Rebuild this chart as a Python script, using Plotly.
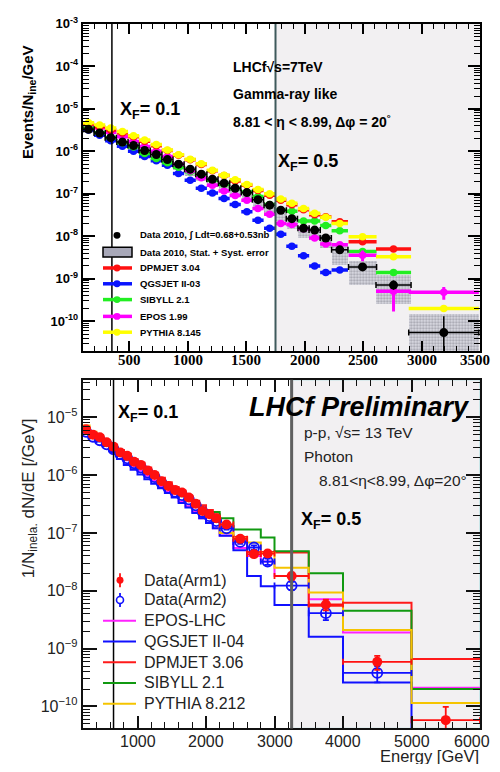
import plotly.graph_objects as go

# ---------------- TOP PANEL: LHCf 7 TeV ----------------
top_x = [150, 245, 340, 440, 535, 630, 730, 825, 920, 1020, 1115, 1210, 1310, 1405,
         1505, 1600, 1700, 1795, 1890, 1990, 2085, 2180, 2300, 2495, 2760, 3190]
top_xerr = [48, 48, 48, 48, 48, 48, 48, 48, 48, 48, 48, 48, 48, 48,
            48, 48, 48, 48, 48, 48, 48, 48, 70, 120, 150, 300]
top_data = [3.3e-6, 2.7e-6, 2.1e-6, 1.65e-6, 1.37e-6, 1.05e-6, 8.4e-7, 6.4e-7, 5.0e-7, 3.8e-7,
            2.9e-7, 2.2e-7, 1.78e-7, 1.35e-7, 1.07e-7, 7.3e-8, 5.4e-8, 4.1e-8, 2.6e-8, 1.55e-8,
            1.4e-8, 9.1e-9, 4.8e-9, 1.9e-9, 7.1e-10, 5.4e-11]
top_data_eup = [0, 0, 0, 0, 0, 0, 0, 0, 0, 0, 0, 0, 0, 0, 0, 0, 0, 0, 0, 0, 0, 0,
                4e-10, 2.5e-10, 2.0e-10, 7.8e-11]
top_data_edn = [0, 0, 0, 0, 0, 0, 0, 0, 0, 0, 0, 0, 0, 0, 0, 0, 0, 0, 0, 0, 0, 0,
                4e-10, 2.5e-10, 1.6e-10, 5.3e-11]
top_sys_hi = [3.6e-6, 2.95e-6, 2.3e-6, 1.8e-6, 1.5e-6, 1.15e-6, 9.2e-7, 7.0e-7, 5.5e-7, 4.2e-7,
              3.2e-7, 2.45e-7, 2.0e-7, 1.5e-7, 1.2e-7, 8.2e-8, 6.1e-8, 4.6e-8, 2.9e-8, 1.75e-8,
              1.6e-8, 1.05e-8, 6.0e-9, 2.7e-9, 1.2e-9, 1.45e-10]
top_sys_lo = [2.7e-6, 2.2e-6, 1.7e-6, 1.3e-6, 1.07e-6, 8.0e-7, 6.3e-7, 4.7e-7, 3.6e-7, 2.7e-7,
              2.0e-7, 1.5e-7, 1.2e-7, 8.8e-8, 6.8e-8, 4.5e-8, 3.2e-8, 2.3e-8, 1.5e-8, 9.3e-9,
              8.0e-9, 5.4e-9, 2.1e-9, 7.1e-10, 2.5e-10, 1.5e-11]
top_dpmjet = [4.4e-6, 3.8e-6, 3.2e-6, 2.7e-6, 2.2e-6, 1.74e-6, 1.35e-6, 1.05e-6, 8.1e-7, 6.3e-7,
              4.9e-7, 3.5e-7, 2.7e-7, 2.0e-7, 1.6e-7, 1.2e-7, 9.3e-8, 7.1e-8, 5.5e-8, 4.2e-8,
              3.2e-8, 2.9e-8, 2.2e-8, 7.4e-9, 5.0e-9, None]
top_qgsjet = [3.2e-6, 2.4e-6, 1.78e-6, 1.32e-6, 1.0e-6, 7.6e-7, 6.0e-7, 4.7e-7, 3.0e-7, 2.1e-7,
              1.35e-7, 1.05e-7, 7.8e-8, 5.6e-8, 3.8e-8, 2.4e-8, 1.55e-8, 1.12e-8, 5.8e-9, 3.5e-9,
              2.0e-9, 1.4e-9, 1.6e-9, None, None, None]
top_sibyll = [3.55e-6, 2.75e-6, 2.1e-6, 1.6e-6, 1.26e-6, 8.9e-7, 6.8e-7, 5.4e-7, 4.2e-7, 3.3e-7,
              2.6e-7, 2.1e-7, 1.66e-7, 1.32e-7, 1.1e-7, 8.7e-8, 5.6e-8, 4.1e-8, 3.9e-8, 2.3e-8,
              2.3e-8, 1.8e-8, 1.35e-8, 4.4e-9, 1.4e-9, None]
top_epos = [4.3e-6, 3.55e-6, 2.8e-6, 2.2e-6, 1.7e-6, 1.3e-6, 1.0e-6, 7.6e-7, 5.0e-7, 3.5e-7,
            2.4e-7, 1.6e-7, 1.17e-7, 9.1e-8, 7.1e-8, 4.5e-8, 3.3e-8, 2.0e-8, 1.9e-8, 1.5e-8,
            9.1e-9, 6.6e-9, 6.3e-9, 3.6e-9, 5.1e-10, 4.8e-10]
top_epos_err = [0, 0, 0, 0, 0, 0, 0, 0, 0, 0, 0, 0, 0, 0, 0, 0, 0, 0, 0, 0, 0, 0,
                0, 1.0e-9, 3.4e-10, 1.6e-10]
top_pythia = [4.7e-6, 4.17e-6, 3.55e-6, 2.95e-6, 2.34e-6, 1.86e-6, 1.45e-6, 1.07e-6, 8.3e-7, 6.5e-7,
              5.1e-7, 3.6e-7, 2.75e-7, 2.14e-7, 1.66e-7, 1.26e-7, 1.0e-7, 7.6e-8, 6.0e-8, 4.5e-8,
              3.5e-8, 2.8e-8, 2.0e-8, 9.8e-9, 3.3e-9, 2.0e-10]
top_tickvals_x = [500, 1000, 1500, 2000, 2500, 3000, 3500]
top_ticklabels_x = ["500", "1000", "1500", "2000", "2500", "3000", "3500"]
top_ticktext_y = ["10<sup>-10</sup>", "10<sup>-9</sup>", "10<sup>-8</sup>", "10<sup>-7</sup>",
                  "10<sup>-6</sup>", "10<sup>-5</sup>", "10<sup>-4</sup>", "10<sup>-3</sup>"]
top_tickvals_y = [1e-10, 1e-9, 1e-8, 1e-7, 1e-6, 1e-5, 1e-4, 1e-3]

# ---------------- BOTTOM PANEL: LHCf 13 TeV ----------------
bot_edges = [200, 300, 400, 500, 600, 700, 800, 900, 1000, 1100, 1200, 1300, 1400, 1500,
             1600, 1700, 1800, 1900, 2000, 2100, 2200, 2400, 2600, 2800, 3000, 3500, 4000,
             5000, 6000]
bot_x = [250, 350, 450, 550, 650, 750, 850, 950, 1050, 1150, 1250, 1350, 1450, 1550,
         1650, 1750, 1850, 1950, 2050, 2150, 2300, 2500, 2700, 2900, 3250, 3750, 4500, 5500]
bot_xerr = [50, 50, 50, 50, 50, 50, 50, 50, 50, 50, 50, 50, 50, 50,
            50, 50, 50, 50, 50, 50, 100, 100, 100, 100, 250, 250, 500, 500]
arm1 = [6.2e-6, 5.0e-6, 4.5e-6, 3.7e-6, 3.1e-6, 2.45e-6, 2.15e-6, 1.7e-6, 1.5e-6, 1.2e-6,
        1.0e-6, 7.8e-7, 6.5e-7, 5.5e-7, 5.0e-7, 4.1e-7, 3.2e-7, 2.4e-7, 2.1e-7, 1.8e-7,
        1.4e-7, 7.9e-8, 4.3e-8, 4.4e-8, 1.8e-8, 5.8e-9, 5.9e-10, 5.8e-11]
arm1_err = [2e-7, 1.5e-7, 1.2e-7, 1e-7, 8e-8, 6e-8, 5e-8, 4e-8, 3e-8, 2.5e-8,
            2e-8, 1.6e-8, 1.3e-8, 1.1e-8, 1e-8, 9e-9, 8e-9, 7e-9, 6e-9, 6e-9,
            6e-9, 5e-9, 5e-9, 5e-9, 2.5e-9, 1.2e-9, 1.6e-10, 4e-11]
arm2 = [5.6e-6, 4.6e-6, 4.0e-6, 3.4e-6, 2.8e-6, 2.3e-6, 1.95e-6, 1.6e-6, 1.35e-6, 1.1e-6,
        9.2e-7, 7.3e-7, 6.0e-7, 5.1e-7, 4.5e-7, 3.8e-7, 3.0e-7, 2.3e-7, 1.95e-7, 1.6e-7,
        1.2e-7, 7.0e-8, 5.6e-8, 3.2e-8, 1.23e-8, 4.1e-9, 3.8e-10, None]
arm2_err = [2e-7, 1.5e-7, 1.2e-7, 1e-7, 8e-8, 6e-8, 5e-8, 4e-8, 3e-8, 2.5e-8,
            2e-8, 1.6e-8, 1.3e-8, 1.1e-8, 1e-8, 9e-9, 8e-9, 7e-9, 6e-9, 6e-9,
            6e-9, 5e-9, 5e-9, 4e-9, 2e-9, 1e-9, 1.2e-10, None]
epos_lhc = [5.8e-6, 4.7e-6, 4.0e-6, 3.3e-6, 2.7e-6, 2.15e-6, 1.8e-6, 1.45e-6, 1.2e-6, 9.7e-7,
            8.0e-7, 6.4e-7, 5.2e-7, 4.2e-7, 3.5e-7, 2.9e-7, 2.3e-7, 1.8e-7, 1.5e-7, 1.2e-7,
            9.0e-8, 5.5e-8, 4.0e-8, 3.2e-8, 1.8e-8, 7.1e-9, 1.9e-9, 2.1e-10]
qgsjet2 = [5.6e-6, 4.7e-6, 3.8e-6, 3.2e-6, 2.5e-6, 1.9e-6, 1.5e-6, 1.23e-6, 1.02e-6, 8.5e-7,
           7.1e-7, 5.9e-7, 4.9e-7, 4.1e-7, 3.3e-7, 2.75e-7, 2.2e-7, 1.8e-7, 1.48e-7, 1.2e-7,
           8.9e-8, 5.0e-8, 1.8e-8, 1.2e-8, 5.7e-9, 1.6e-9, 2.6e-10, 1e-12]
dpmjet3 = [6.5e-6, 5.4e-6, 4.6e-6, 3.9e-6, 3.3e-6, 2.7e-6, 2.3e-6, 1.9e-6, 1.6e-6, 1.35e-6,
           1.1e-6, 9.0e-7, 7.5e-7, 6.2e-7, 5.2e-7, 4.3e-7, 3.6e-7, 3.0e-7, 2.5e-7, 2.1e-7,
           1.3e-7, 8.5e-8, 4.7e-8, 4.7e-8, 4.6e-8, 5.5e-9, 6.2e-9, 6.6e-10]
sibyll2 = [6.0e-6, 4.7e-6, 3.9e-6, 3.2e-6, 2.7e-6, 2.2e-6, 1.85e-6, 1.55e-6, 1.3e-6, 1.1e-6,
           9.0e-7, 7.5e-7, 6.2e-7, 5.1e-7, 4.3e-7, 3.6e-7, 3.0e-7, 2.5e-7, 2.3e-7, 2.3e-7,
           1.8e-7, 1.15e-7, 1.15e-7, 8.3e-8, 4.8e-8, 2.0e-8, 4.5e-9, 2.0e-10]
pythia8 = [7.2e-6, 5.6e-6, 4.6e-6, 3.8e-6, 3.1e-6, 2.55e-6, 2.1e-6, 1.75e-6, 1.45e-6, 1.2e-6,
           9.8e-7, 8.0e-7, 6.5e-7, 5.3e-7, 4.4e-7, 3.6e-7, 2.9e-7, 2.4e-7, 2.0e-7, 1.65e-7,
           1.0e-7, 8.0e-8, 6.8e-8, 4.5e-8, 2.5e-8, 9.3e-9, 2.1e-9, 1.15e-10]
bot_tickvals_x = [1000, 2000, 3000, 4000, 5000, 6000]
bot_ticklabels_x = ["1000", "2000", "3000", "4000", "5000", "6000"]
bot_tickvals_y = [1e-10, 1e-9, 1e-8, 1e-7, 1e-6, 1e-5]
bot_ticktext_y = ["10<sup>\u221210</sup>", "10<sup>\u22129</sup>", "10<sup>\u22128</sup>",
                  "10<sup>\u22127</sup>", "10<sup>\u22126</sup>", "10<sup>\u22125</sup>"]

XF_TOP = [350, 1750]
XF_BOT = [650, 3250]

# the page body keeps its default 8px margin; the figure is sized so the page is 500x772
OFF = 8
W, H = 500 - 2 * OFF, 772 - 2 * OFF


def px(v):
    return (v - OFF) / W


def py(v):
    return 1 - (v - OFF) / H


fig = go.Figure()

fig.add_trace(go.Bar(
    x=top_x, base=top_sys_lo,
    y=[h - l for h, l in zip(top_sys_hi, top_sys_lo)],
    width=[2 * e for e in top_xerr],
    marker=dict(color="rgba(255,255,255,0)", line=dict(width=0),
                pattern=dict(shape=".", fgcolor="#6a6a78", bgcolor="#dcdce4", size=3, solidity=0.45)),
    xaxis="x", yaxis="y", hoverinfo="skip"))

top_models = [
    (top_qgsjet, "#0a14ff", None),
    (top_sibyll, "#22ee22", None),
    (top_epos, "#ff00ff", top_epos_err),
    (top_dpmjet, "#ff1010", None),
    (top_pythia, "#ffff00", None),
]
for vals, col, yerr in top_models:
    fig.add_trace(go.Scatter(
        x=top_x, y=vals, mode="markers", xaxis="x", yaxis="y",
        marker=dict(symbol="circle", size=7.5, color=col),
        error_x=dict(type="data", array=top_xerr, color=col, thickness=3.5, width=0),
        error_y=(dict(type="data", array=yerr, color=col, thickness=3, width=0) if yerr else None),
        hoverinfo="skip"))

fig.add_trace(go.Scatter(
    x=top_x, y=top_data, mode="markers", xaxis="x", yaxis="y",
    marker=dict(symbol="circle", size=9, color="black"),
    error_x=dict(type="data", array=top_xerr, color="black", thickness=1.5, width=3),
    error_y=dict(type="data", array=top_data_eup, arrayminus=top_data_edn, color="black",
                 thickness=1.5, width=0),
    hoverinfo="skip"))

bot_models = [
    (epos_lhc, "#ff22ff"),
    (qgsjet2, "#1010ff"),
    (dpmjet3, "#ff1a1a"),
    (sibyll2, "#119911"),
    (pythia8, "#f5c400"),
]
for vals, col in bot_models:
    fig.add_trace(go.Scatter(
        x=bot_edges, y=vals + [vals[-1]], mode="lines", line=dict(color=col, width=2, shape="hv"),
        xaxis="x2", yaxis="y2", hoverinfo="skip", connectgaps=False))

fig.add_trace(go.Scatter(
    x=bot_x, y=arm2, mode="markers", xaxis="x2", yaxis="y2",
    marker=dict(symbol="circle-open", size=10, color="#1010ff", line=dict(width=1.8)),
    error_x=dict(type="data", array=bot_xerr, color="#1010ff", thickness=1.8, width=3),
    error_y=dict(type="data", array=arm2_err, color="#1010ff", thickness=1.8, width=3),
    hoverinfo="skip"))
fig.add_trace(go.Scatter(
    x=bot_x, y=arm1, mode="markers", xaxis="x2", yaxis="y2",
    marker=dict(symbol="circle", size=10, color="#ff1010"),
    error_x=dict(type="data", array=bot_xerr, color="#ff1010", thickness=1.8, width=3),
    error_y=dict(type="data", array=arm1_err, color="#ff1010", thickness=1.8, width=3),
    hoverinfo="skip"))

shapes = []
shapes.append(dict(type="rect", xref="x", yref="y domain", x0=XF_TOP[1], x1=3500, y0=0, y1=1,
                   fillcolor="#f2f0f2", line=dict(width=0), layer="below"))
shapes.append(dict(type="rect", xref="x2", yref="y2 domain", x0=XF_BOT[1], x1=6000, y0=0, y1=1,
                   fillcolor="#f2f0f2", line=dict(color="#bfe3e6", width=1.5), layer="below"))
shapes.append(dict(type="line", xref="x", yref="y domain", x0=XF_TOP[0], x1=XF_TOP[0], y0=0, y1=1,
                   line=dict(color="black", width=1.5)))
shapes.append(dict(type="line", xref="x", yref="y domain", x0=XF_TOP[1], x1=XF_TOP[1], y0=0, y1=1,
                   line=dict(color="#3f5a5c", width=2)))
shapes.append(dict(type="line", xref="x2", yref="y2 domain", x0=XF_BOT[0], x1=XF_BOT[0], y0=0, y1=1,
                   line=dict(color="black", width=1.5)))
shapes.append(dict(type="line", xref="x2", yref="y2 domain", x0=XF_BOT[1], x1=XF_BOT[1], y0=0, y1=1,
                   line=dict(color="#606060", width=3)))

annotations = []


def txt(x, y, s, size, bold=False, italic=False, anchor="left", family="Liberation Sans",
        color="black", angle=0):
    s2 = s
    if italic:
        s2 = "<i>" + s2 + "</i>"
    if bold:
        s2 = "<b>" + s2 + "</b>"
    annotations.append(dict(x=px(x), y=py(y), xref="paper", yref="paper", text=s2, showarrow=False,
                            xanchor=anchor, yanchor="middle", textangle=angle,
                            font=dict(size=size, family=family, color=color)))


# x-axis tick labels, placed at the axis values (ROOT-style, close to the axis)
for i, (v, lab) in enumerate(zip(top_tickvals_x, top_ticklabels_x)):
    last = i == len(top_tickvals_x) - 1
    annotations.append(dict(x=v, xref="x", y=py(355), yref="paper", text="<b>" + lab + "</b>",
                            showarrow=False, xanchor="right" if last else "center",
                            xshift=12 if last else 0, yanchor="middle",
                            font=dict(size=15, family="Liberation Serif", color="black")))
for i, (v, lab) in enumerate(zip(bot_tickvals_x, bot_ticklabels_x)):
    last = i == len(bot_tickvals_x) - 1
    annotations.append(dict(x=v, xref="x2", y=py(741), yref="paper", text=lab,
                            showarrow=False, xanchor="right" if last else "center",
                            xshift=12 if last else 0, yanchor="middle",
                            font=dict(size=16, family="Liberation Sans", color="#222")))

txt(231, 59, "LHCf\u221As=7TeV", 14, bold=True)
txt(231, 86, "Gamma-ray like", 14, bold=True)
txt(231, 113, "8.81 < \u03b7 < 8.99, \u0394\u03c6 = 20<sup>\u00b0</sup>", 14, bold=True)
txt(118, 103, "X<sub>F</sub>= 0.1", 18, bold=True)
txt(276, 155, "X<sub>F</sub>= 0.5", 18, bold=True)
txt(29, 94, "Events/N<sub>ine</sub>/GeV", 15, bold=True, anchor="center", angle=-90)

leg_top = [
    ("Data 2010, \u222b Ldt=0.68+0.53nb", "black", 229, "dot"),
    ("Data 2010, Stat. + Syst. error", None, 246, "box"),
    ("DPMJET 3.04", "#ff1010", 262, "line"),
    ("QGSJET II-03", "#0a14ff", 278, "line"),
    ("SIBYLL 2.1", "#22ee22", 294, "line"),
    ("EPOS 1.99", "#ff00ff", 311, "line"),
    ("PYTHIA 8.145", "#ffff00", 327, "line"),
]
for label, col, yy, kind in leg_top:
    txt(138, yy, label, 9.5, bold=True)
    if kind == "dot":
        shapes.append(dict(type="circle", xref="paper", yref="paper", x0=px(113.5), x1=px(120.5),
                           y0=py(232.5), y1=py(225.5), fillcolor="black", line=dict(width=0)))
    elif kind == "box":
        shapes.append(dict(type="rect", xref="paper", yref="paper", x0=px(103), x1=px(132),
                           y0=py(251), y1=py(241), fillcolor="#a8a8b8", line=dict(color="black", width=1.5)))
    else:
        shapes.append(dict(type="line", xref="paper", yref="paper", x0=px(103), x1=px(132),
                           y0=py(yy), y1=py(yy), line=dict(color=col, width=3.5)))
        shapes.append(dict(type="circle", xref="paper", yref="paper", x0=px(113.5), x1=px(120.5),
                           y0=py(yy + 3.5), y1=py(yy - 3.5), fillcolor=col, line=dict(width=0)))

txt(247, 403, "LHCf Preliminary", 27, bold=True, italic=True)
txt(302, 429, "p-p, \u221As= 13 TeV", 15.5, color="#222")
txt(302, 453, "Photon", 15.5, color="#222")
txt(469, 477, "8.81<\u03b7<8.99, \u0394\u03c6=20\u00b0", 15.5, anchor="right", color="#222")
txt(116, 409, "X<sub>F</sub>= 0.1", 18, bold=True)
txt(299, 518, "X<sub>F</sub>= 0.5", 18, bold=True)
txt(30, 495, "1/N<sub>inela.</sub> dN/dE [/GeV]", 17, anchor="center", angle=-90, color="#222")
txt(481, 756, "Energy [GeV]", 16.5, anchor="right", color="#222")

leg_bot = [
    ("Data(Arm1)", "#ff1010", 578, "fdot"),
    ("Data(Arm2)", "#1010ff", 598, "odot"),
    ("EPOS-LHC", "#ff22ff", 619, "line"),
    ("QGSJET II-04", "#1010ff", 640, "line"),
    ("DPMJET 3.06", "#ff1a1a", 661, "line"),
    ("SIBYLL 2.1", "#119911", 682, "line"),
    ("PYTHIA 8.212", "#f5c400", 703, "line"),
]
for label, col, yy, kind in leg_bot:
    txt(142, yy, label, 16, color="#222")
    if kind == "line":
        shapes.append(dict(type="line", xref="paper", yref="paper", x0=px(103), x1=px(136),
                           y0=py(yy), y1=py(yy), line=dict(color=col, width=2)))
    else:
        shapes.append(dict(type="line", xref="paper", yref="paper", x0=px(120), x1=px(120),
                           y0=py(yy - 7), y1=py(yy + 7), line=dict(color=col, width=1.8)))
        if kind == "fdot":
            shapes.append(dict(type="circle", xref="paper", yref="paper", x0=px(116.5), x1=px(123.5),
                               y0=py(yy + 3.5), y1=py(yy - 3.5), fillcolor=col, line=dict(width=0)))
        else:
            shapes.append(dict(type="circle", xref="paper", yref="paper", x0=px(116.5), x1=px(123.5),
                               y0=py(yy + 3.5), y1=py(yy - 3.5), fillcolor="white",
                               line=dict(color=col, width=1.6)))

top_minor_y = [k * 10.0 ** e for e in range(-11, -3) for k in range(2, 10)]
bot_minor_y = [k * 10.0 ** e for e in range(-11, -4) for k in range(2, 10)]

fig.update_layout(
    width=W, height=H, autosize=False, margin=dict(l=0, r=0, t=0, b=0),
    paper_bgcolor="white", plot_bgcolor="white", showlegend=False,
    barmode="overlay", bargap=0,
    xaxis=dict(domain=[px(82.7), px(480)], anchor="y", range=[100, 3500],
               showline=True, linecolor="black", linewidth=2, mirror="ticks",
               ticks="inside", ticklen=10, tickwidth=1.5, tickcolor="black",
               tickvals=top_tickvals_x, showticklabels=False, showgrid=False, zeroline=False,
               minor=dict(ticks="inside", ticklen=5, tickwidth=1.2, tickcolor="black", dtick=100,
                          showgrid=False)),
    yaxis=dict(domain=[py(346), py(15)], anchor="x", type="log", range=[-10.7, -3],
               showline=True, linecolor="black", linewidth=2, mirror="ticks",
               ticks="inside", ticklen=12, tickwidth=1.5, tickcolor="black",
               tickvals=top_tickvals_y, ticktext=top_ticktext_y, showgrid=False, zeroline=False,
               ticklabeloverflow="allow",
               tickfont=dict(family="Liberation Sans", size=13, color="black", weight="bold"),
               minor=dict(ticks="inside", ticklen=6, tickwidth=1.2, tickcolor="black",
                          tickvals=top_minor_y, showgrid=False)),
    xaxis2=dict(domain=[px(82.7), px(480)], anchor="y2", range=[200, 6000],
                showline=True, linecolor="#111", linewidth=2, mirror="ticks",
                ticks="inside", ticklen=12, tickwidth=1.5, tickcolor="#111",
                tickvals=bot_tickvals_x, showticklabels=False, showgrid=False, zeroline=False,
                minor=dict(ticks="inside", ticklen=6, tickwidth=1.2, tickcolor="#111", dtick=200,
                           showgrid=False)),
    yaxis2=dict(domain=[py(728), py(375)], anchor="x2", type="log", range=[-10.38, -4.35],
                showline=True, linecolor="#111", linewidth=2, mirror="ticks",
                ticks="inside", ticklen=14, tickwidth=1.5, tickcolor="#111",
                tickvals=bot_tickvals_y, ticktext=bot_ticktext_y, showgrid=False, zeroline=False,
                ticklabeloverflow="allow",
                tickfont=dict(family="Liberation Sans", size=16, color="#222"),
                minor=dict(ticks="inside", ticklen=7, tickwidth=1.2, tickcolor="#111",
                           tickvals=bot_minor_y, showgrid=False)),
    shapes=shapes, annotations=annotations,
)

fig.write_html("out.html", config={"displayModeBar": False})
